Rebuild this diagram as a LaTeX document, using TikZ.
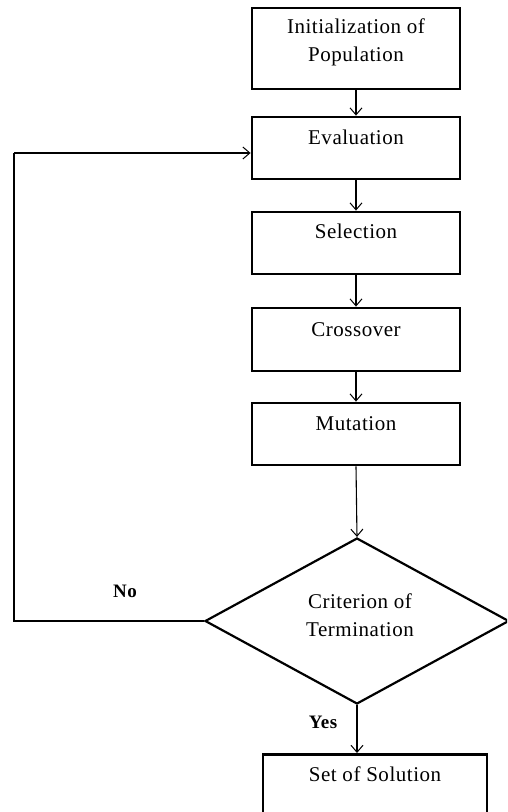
\documentclass[tikz,border=0pt]{standalone}
\usepackage{fontspec}
\setmainfont{Liberation Serif}[LetterSpace=2.5]
\usetikzlibrary{shapes.geometric,arrows.meta}
\begin{document}
\begin{tikzpicture}[x=1pt,y=-1pt,
  box/.style={draw=black,line width=2.8pt,minimum width=208pt,inner sep=0pt},
  txt/.style={font=\fontsize{21}{28}\selectfont,text=black,inner sep=0pt,align=center},
  lbl/.style={font=\fontsize{19}{22}\selectfont\bfseries,text=black,inner sep=0pt},
  conn/.style={draw=black,line width=1.1pt,-{Straight Barb[length=7pt,width=12pt,line width=1pt]}},
  loopline/.style={draw=black,line width=1.1pt}]
\useasboundingbox (0,0) rectangle (507,812);
\clip (0,0) rectangle (507,812);
\fill[white] (0,0) rectangle (507,812);
% boxes
\node[box,minimum height=81pt] (init) at (356,48.5) {};
\node[box,minimum height=62pt] (eval) at (356,148) {};
\node[box,minimum height=62pt] (sel) at (356,243) {};
\node[box,minimum height=63pt] (cross) at (356,339.5) {};
\node[box,minimum height=62pt] (mut) at (356,434) {};
\node[draw=black,line width=2.2pt,diamond,aspect=1.83,minimum width=304pt,minimum height=166pt,inner sep=0pt] (dia) at (357,621) {};
\node[box,minimum width=224pt,minimum height=100pt,anchor=north] (sol) at (375,753) {};
% texts
\node[txt] (tinit) at ([yshift=-36pt]init.north) {Initialization of\\Population};
\node[txt] (teval) at ([yshift=-22pt]eval.north) {Evaluation};
\node[txt] (tsel) at ([yshift=-21pt]sel.north) {Selection};
\node[txt] (tcross) at ([yshift=-23pt]cross.north) {Crossover};
\node[txt] (tmut) at ([yshift=-22pt]mut.north) {Mutation};
\node[txt] (tdia) at (360,615) {Criterion of\\Termination};
\node[txt] (tsol) at ([yshift=-21pt]sol.north) {Set of Solution};
\node[lbl] (no) at (125,591) {No};
\node[lbl] (yes) at (323,722) {Yes};
% connectors
\draw[conn] (init.south) -- (eval.north);
\draw[conn] (eval.south) -- (sel.north);
\draw[conn] (sel.south) -- (cross.north);
\draw[conn] (cross.south) -- (mut.north);
\draw[conn] (mut.south) -- (dia.north);
\draw[conn] (dia.south) -- (dia.south |- sol.north);
\coordinate (c1) at (14,621);
\coordinate (c2) at (14,153);
\draw[loopline] (dia.west) -- (c1) -- (c2);
\draw[conn] (c2) -- (c2 -| eval.west);
\end{tikzpicture}
\end{document}
